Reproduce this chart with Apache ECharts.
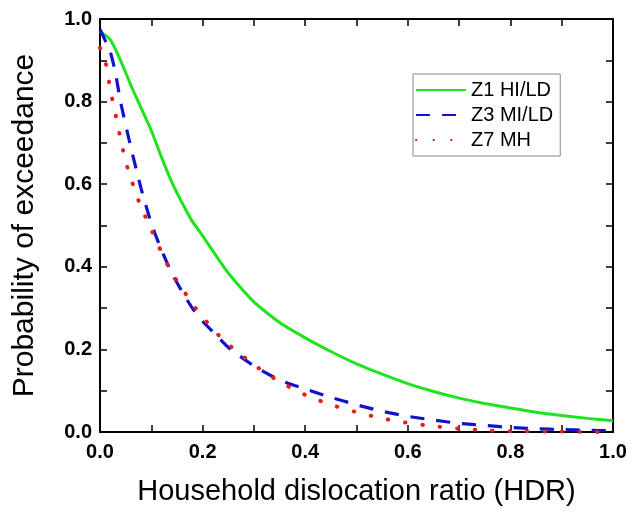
<!DOCTYPE html>
<html>
<head>
<meta charset="utf-8">
<script src="https://cdn.jsdelivr.net/npm/echarts@6/dist/echarts.min.js"></script>
<style>
html,body{margin:0;padding:0;background:#fff;}
#chart{width:631px;height:512px;}
</style>
</head>
<body>
<div id="chart"></div>
<script>
// Series names
var seriesNames = ['Z1 HI/LD', 'Z3 MI/LD', 'Z7 MH'];

// Z1 HI/LD (green, solid)
var xZ1 = [0, 0.02, 0.04, 0.06, 0.08, 0.10, 0.12, 0.14, 0.16, 0.18, 0.20, 0.25, 0.30, 0.35, 0.40, 0.45, 0.50, 0.55, 0.60, 0.65, 0.70, 0.75, 0.80, 0.85, 0.90, 0.95, 1.00];
var yZ1 = [0.97, 0.95, 0.90, 0.84, 0.785, 0.73, 0.665, 0.605, 0.555, 0.51, 0.475, 0.385, 0.315, 0.265, 0.228, 0.195, 0.165, 0.14, 0.117, 0.098, 0.082, 0.069, 0.058, 0.048, 0.04, 0.033, 0.027];

// Z3 MI/LD (blue, dashed)
var xZ3 = [0, 0.02, 0.03, 0.04, 0.06, 0.08, 0.10, 0.12, 0.14, 0.16, 0.18, 0.20, 0.22, 0.25, 0.30, 0.35, 0.40, 0.45, 0.50, 0.55, 0.60, 0.65, 0.70, 0.75, 0.80, 0.85, 0.90, 0.95, 1.00];
var yZ3 = [0.975, 0.92, 0.87, 0.80, 0.69, 0.59, 0.505, 0.44, 0.385, 0.34, 0.30, 0.268, 0.243, 0.205, 0.16, 0.126, 0.104, 0.084, 0.066, 0.05, 0.038, 0.029, 0.021, 0.016, 0.011, 0.008, 0.006, 0.004, 0.003];

// Z7 MH (red, dotted)
var xZ7 = [0, 0.01, 0.02, 0.03, 0.04, 0.05, 0.06, 0.07, 0.08, 0.10, 0.12, 0.14, 0.16, 0.18, 0.20, 0.22, 0.24, 0.27, 0.30, 0.33, 0.36, 0.40, 0.45, 0.50, 0.55, 0.60, 0.65, 0.70, 0.75, 0.80, 0.90, 1.00];
var yZ7 = [0.93, 0.90, 0.83, 0.77, 0.71, 0.655, 0.615, 0.578, 0.545, 0.49, 0.435, 0.385, 0.348, 0.31, 0.278, 0.25, 0.223, 0.192, 0.163, 0.137, 0.115, 0.09, 0.066, 0.048, 0.033, 0.022, 0.014, 0.008, 0.004, 0.002, 0.001, 0.0];

// Axis settings / titles
var xTitle = 'Household dislocation ratio (HDR)';
var yTitle = 'Probability of exceedance';
var axisMin = 0, axisMax = 1.0, axisStep = 0.2;

function pairs(xs, ys) { return xs.map(function (x, i) { return [x, ys[i]]; }); }

var FONT = "'Liberation Sans', Arial, sans-serif";
var chart = echarts.init(document.getElementById('chart'), null, {renderer: 'canvas'});

function baseAxis(extra) {
  var a = {
    type: 'value', min: axisMin, max: axisMax, interval: axisStep,
    splitLine: {show: false},
    axisLine: {show: true, onZero: false, lineStyle: {color: '#000', width: 2}},
    axisTick: {show: true, inside: true, length: 7, lineStyle: {color: '#000', width: 1.5}},
    minorTick: {show: true, splitNumber: 2, length: 7, lineStyle: {color: '#000', width: 1.5}},
    axisLabel: {show: false}
  };
  for (var k in extra) a[k] = extra[k];
  return a;
}

var labelStyle = {
  show: true, color: '#000', fontFamily: FONT, fontWeight: 'bold', fontSize: 20,
  formatter: function (v) { return v.toFixed(1); }
};

var option = {
  backgroundColor: '#fff',
  animation: false,
  grid: {left: 100, top: 19, width: 513, height: 413, containLabel: false},
  legend: {
    orient: 'vertical', left: 413, top: 74,
    padding: [6, 7, 6, 2], itemGap: 5, itemWidth: 50, itemHeight: 14,
    borderColor: '#888', borderWidth: 1, backgroundColor: '#fff',
    itemStyle: {color: 'rgba(0,0,0,0)', borderWidth: 0, opacity: 0},
    textStyle: {fontFamily: FONT, fontSize: 20, color: '#000', lineHeight: 20},
    data: seriesNames
  },
  xAxis: [
    baseAxis({position: 'bottom', name: xTitle, nameLocation: 'middle', nameGap: 45,
      nameTextStyle: {fontFamily: FONT, fontSize: 29, color: '#000'},
      axisLabel: Object.assign({margin: 10}, labelStyle)}),
    baseAxis({position: 'top'})
  ],
  yAxis: [
    baseAxis({position: 'left', name: yTitle, nameLocation: 'middle', nameGap: 60,
      nameTextStyle: {fontFamily: FONT, fontSize: 30, color: '#000'},
      axisLabel: Object.assign({margin: 8}, labelStyle)}),
    baseAxis({position: 'right'})
  ],
  series: [
    {name: seriesNames[0], type: 'line', data: pairs(xZ1, yZ1), symbol: 'none', smooth: 0.2,
      color: '#1fe31f', lineStyle: {color: '#1fe31f', width: 3}},
    {name: seriesNames[1], type: 'line', data: pairs(xZ3, yZ3), symbol: 'none', smooth: 0.2,
      color: '#1212cc', lineStyle: {color: '#1212cc', width: 3.2, type: [14, 12]}},
    {name: seriesNames[2], type: 'line', data: pairs(xZ7, yZ7), symbol: 'none', smooth: 0.2,
      color: '#e02020', lineStyle: {color: '#e02020', width: 4, type: [0.5, 17], cap: 'round'}}
  ]
};
chart.setOption(option);
</script>
</body>
</html>
